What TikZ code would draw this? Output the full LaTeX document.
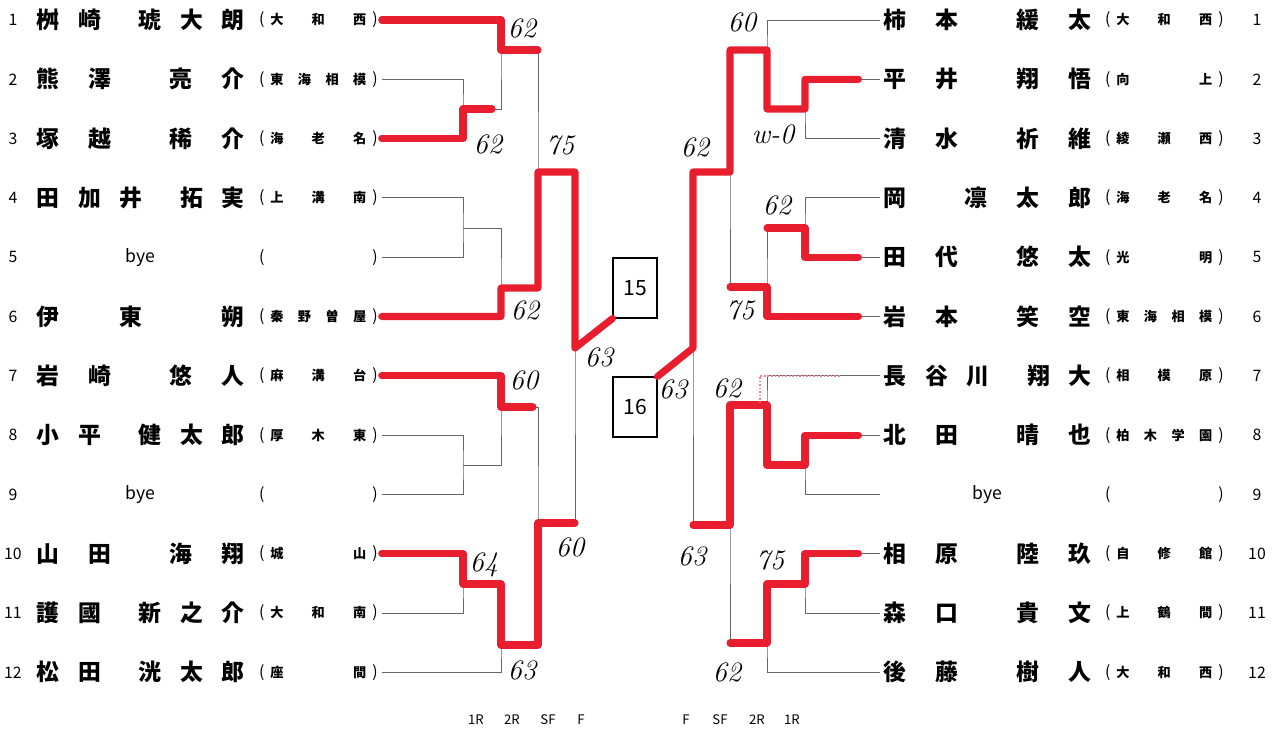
\documentclass[tikz,border=0pt]{standalone}
\usepackage{fontspec}
\newfontfamily\jp{Noto Sans CJK JP}

\definecolor{pen}{RGB}{232,30,46}
\definecolor{printline}{gray}{0.4}

% name field and school field of one entry
\newcommand{\pname}[1]{\makebox[4.16cm]{#1}}
\newcommand{\paren}[1]{{\mdseries\fontsize{9}{9}\selectfont#1}}
\newcommand{\pschool}[1]{\paren{(}\hspace{0.12cm}\makebox[1.92cm]{#1}\hspace{0.12cm}\paren{)}}
\newcommand{\byefont}{\mdseries\fontsize{10}{10}\selectfont}

\tikzset{
  printed/.style={draw=printline, line width=0.5pt},
  win/.style={draw=pen, line width=4pt, line cap=round, line join=round},
  seed/.style={font=\jp\fontsize{9}{9}\selectfont, inner sep=0pt},
  entry/.style={font=\jp\bfseries\fontsize{13}{13}\selectfont, anchor=west, inner sep=0pt, outer sep=0.08cm},
  club/.style={font=\jp\bfseries\fontsize{7.5}{7.5}\selectfont, anchor=west, inner sep=0pt, outer sep=0.08cm},
  place/.style={draw, line width=0.6pt, minimum width=0.88cm, minimum height=1.2cm, font=\jp\fontsize{12}{12}\selectfont},
  score/.style={font=\itshape\fontsize{16}{16}\selectfont, inner sep=0pt},
  rlabel/.style={font=\jp\fontsize{7.5}{7.5}\selectfont, inner sep=0pt}
}

\begin{document}
\begin{tikzpicture}[x=0.02cm, y=-0.02cm]
\useasboundingbox (0,0) rectangle (1275,729);

% Left entries
\foreach \i/\pl/\sch in {
  1/{桝\hfill 崎\hfill\hfill 琥\hfill 大\hfill 朗}/{大\hfill 和\hfill 西},
  2/{熊\hfill 澤\hfill\hfill 亮\hfill 介}/{東\hfill 海\hfill 相\hfill 模},
  3/{塚\hfill 越\hfill\hfill 稀\hfill 介}/{海\hfill 老\hfill 名},
  4/{田\hfill 加\hfill 井\hfill\hfill 拓\hfill 実}/{上\hfill 溝\hfill 南},
  5/{\hfill\byefont bye\hfill}/{},
  6/{伊\hskip0pt plus 3fill 東\hskip0pt plus 4fill 朔}/{秦\hfill 野\hfill 曽\hfill 屋},
  7/{岩\hfill 崎\hfill\hfill 悠\hfill 人}/{麻\hfill 溝\hfill 台},
  8/{小\hfill 平\hfill\hfill 健\hfill 太\hfill 郎}/{厚\hfill 木\hfill 東},
  9/{\hfill\byefont bye\hfill}/{},
  10/{山\hfill 田\hfill\hfill 海\hfill 翔}/{城\hfill 山},
  11/{護\hfill 國\hfill\hfill 新\hfill 之\hfill 介}/{大\hfill 和\hfill 南},
  12/{松\hfill 田\hfill\hfill 洸\hfill 太\hfill 郎}/{座\hfill 間}}{
  \node[seed] (nL\i) at (13,{20+(\i-1)*59.3}) {\i};
  \node[entry] (L\i) at (32.5,{20+(\i-1)*59.3}) {\pname{\pl}};
  \node[club] (sL\i) at (255,{20+(\i-1)*59.3}) {\pschool{\sch}};
}

% Right entries
\foreach \i/\pl/\sch in {
  1/{柿\hfill 本\hfill\hfill 緩\hfill 太}/{大\hfill 和\hfill 西},
  2/{平\hfill 井\hfill\hfill 翔\hfill 悟}/{向\hfill 上},
  3/{清\hfill 水\hfill\hfill 祈\hfill 維}/{綾\hfill 瀬\hfill 西},
  4/{岡\hfill\hfill 凛\hfill 太\hfill 郎}/{海\hfill 老\hfill 名},
  5/{田\hfill 代\hfill\hfill 悠\hfill 太}/{光\hfill 明},
  6/{岩\hfill 本\hfill\hfill 笑\hfill 空}/{東\hfill 海\hfill 相\hfill 模},
  7/{長\hfill 谷\hfill 川\hfill\hfill 翔\hfill 大}/{相\hfill 模\hfill 原},
  8/{北\hfill 田\hfill\hfill 晴\hfill 也}/{柏\hfill 木\hfill 学\hfill 園},
  9/{\hfill\byefont bye\hfill}/{},
  10/{相\hfill 原\hfill\hfill 陸\hfill 玖}/{自\hfill 修\hfill 館},
  11/{森\hfill 口\hfill\hfill 貴\hfill 文}/{上\hfill 鶴\hfill 間},
  12/{後\hfill 藤\hfill\hfill 樹\hfill 人}/{大\hfill 和\hfill 西}}{
  \node[entry] (R\i) at (879.5,{20+(\i-1)*59.3}) {\pname{\pl}};
  \node[club] (sR\i) at (1101,{20+(\i-1)*59.3}) {\pschool{\sch}};
  \node[seed] (nR\i) at (1257,{20+(\i-1)*59.3}) {\i};
}

% Left bracket
\coordinate (a23) at (463,109);
\coordinate (a45) at (463,228);
\coordinate (a89) at (463,465);
\coordinate (a1011) at (463,584);
\coordinate (b1) at (501,50);
\coordinate (b2) at (501,288);
\coordinate (b3) at (501,407);
\coordinate (b4) at (501,645);
\coordinate (c1) at (538,172);
\coordinate (c2) at (538,523);
\coordinate (f) at (575,348);

\draw[printed] (sL2.east) -| (a23) |- (sL3.east);
\draw[printed] (sL4.east) -| (a45) |- (sL5.east);
\draw[printed] (sL8.east) -| (a89) |- (sL9.east);
\draw[printed] (sL10.east) -| (a1011) |- (sL11.east);
\draw[printed] (sL1.east) -| (b1) |- (a23);
\draw[printed] (a45) -| (b2) |- (sL6.east);
\draw[printed] (sL7.east) -| (b3) |- (a89);
\draw[printed] (a1011) -| (b4) |- (sL12.east);
\draw[printed] (b1) -| (c1) |- (b2);
\draw[printed] (b3) -| (c2) |- (b4);
\draw[printed] (c1) -| (f) |- (c2);

% Right bracket
\coordinate (ra23) at (805,109);
\coordinate (ra45) at (805,228);
\coordinate (ra89) at (805,465);
\coordinate (ra1011) at (805,584);
\coordinate (rb1) at (767,50);
\coordinate (rb2) at (767,287);
\coordinate (rb3) at (767,405);
\coordinate (rb4) at (767,643);
\coordinate (rc1) at (730,172);
\coordinate (rc2) at (730,525);
\coordinate (rf) at (693,348);

\draw[printed] (R2.west) -| (ra23) |- (R3.west);
\draw[printed] (R4.west) -| (ra45) |- (R5.west);
\draw[printed] (R8.west) -| (ra89) |- (R9.west);
\draw[printed] (R10.west) -| (ra1011) |- (R11.west);
\draw[printed] (R1.west) -| (rb1) |- (ra23);
\draw[printed] (ra45) -| (rb2) |- (R6.west);
\draw[printed] (R7.west) -| (rb3) |- (ra89);
\draw[printed] (ra1011) -| (rb4) |- (R12.west);
\draw[printed] (rb1) -| (rc1) |- (rb2);
\draw[printed] (rb3) -| (rc2) |- (rb4);
\draw[printed] (rc1) -| (rf) |- (rc2);

% Places
\node[place] (q15) at (635,288) {15};
\node[place] (q16) at (635,407) {16};

% Winners, left
\draw[win] (sL1.east) -| (b1) -- (b1 -| c1);
\draw[win] (sL3.east) -| (a23) -- ++(29,0);
\draw[win] (sL6.east) -| (b2) -| (c1) -| (f) -- (q15.south west);
\draw[win] (sL7.east) -| (b3) -- ++(32,0);
\draw[win] (sL10.east) -| (a1011) -| (b4) -| (c2) -- (c2 -| f);

% Winners, right
\draw[win, shorten <=0.42cm] (R2.west) -| (ra23) -| (rb1) -| (rc1) -| (rf) -- (q16.north east);
\draw[win, shorten <=0.42cm] (R5.west) -| (ra45) -- (ra45 -| rb2);
\draw[win, shorten <=0.42cm] (R6.west) -| (rb2) -- (rb2 -| rc1);
\draw[win, shorten <=0.42cm] (R8.west) -| (ra89) -| (rb3) -| (rc2) -- (rc2 -| rf);
\draw[win, shorten <=0.42cm] (R10.west) -| (ra1011) -| (rb4) -- (rb4 -| rc2);
\draw[pen!55, densely dotted, line width=1pt] (R7.west) ++(-40,0) -| ([xshift=-0.14cm]rb3);

% Scores
\node[score] (sc1) at (522,28) {62};
\node[score] (sc2) at (488,144) {62};
\node[score] (sc3) at (560,145) {75};
\node[score] (sc4) at (525,310) {62};
\node[score] (sc5) at (599,357) {63};
\node[score] (sc6) at (524,380) {60};
\node[score] (sc7) at (484,565) {64};
\node[score] (sc8) at (570,547) {60};
\node[score] (sc9) at (522,670) {63};
\node[score] (rs1) at (742,22) {60};
\node[score] (rs2) at (773,134) {w-0};
\node[score] (rs3) at (695,147) {62};
\node[score] (rs4) at (777,205) {62};
\node[score] (rs5) at (740,310) {75};
\node[score] (rs6) at (673,389) {63};
\node[score] (rs7) at (727,388) {62};
\node[score] (rs8) at (692,556) {63};
\node[score] (rs9) at (770,560) {75};
\node[score] (rs10) at (727,672) {62};

% Round labels
\foreach \t/\x [count=\k] in {1R/476, 2R/512, SF/548, F/581, F/686, SF/720, 2R/757, 1R/792}
  \node[rlabel] (rd\k) at (\x,720) {\t};

\end{tikzpicture}
\end{document}
